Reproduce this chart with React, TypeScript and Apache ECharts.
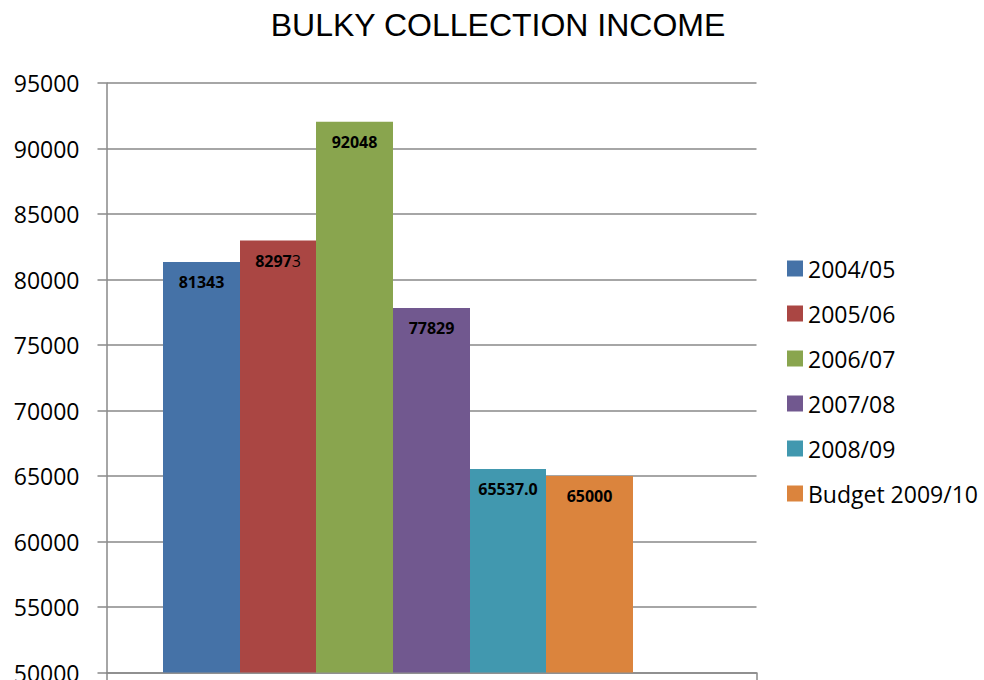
import React, { useEffect, useRef } from "react";
import * as echarts from "echarts";

const title = "BULKY COLLECTION INCOME";
const seriesNames = ["2004/05", "2005/06", "2006/07", "2007/08", "2008/09", "Budget 2009/10"];
const seriesValues = [81343, 82973, 92048, 77829, 65537, 65000];
const labelTexts = ["81343", "{b|8297}{n|3}", "92048", "77829", "65537.0", "65000"];
const colors = ["#4572A7", "#AA4643", "#89A54E", "#71588F", "#4198AF", "#DB843D"];
const barWidths = [77, 76, 77, 77, 76, 87];
const yMin = 50000;
const yMax = 95000;
const yInterval = 5000;

export default function App() {
  const ref = useRef<HTMLDivElement>(null);
  useEffect(() => {
    if (!ref.current) return;
    const chart = echarts.init(ref.current, undefined, { renderer: "svg" });
    const series: any[] = seriesNames.map((name, i) => ({
      name,
      type: "bar",
      data: [seriesValues[i]],
      barWidth: barWidths[i],
      barGap: "0%",
      itemStyle: { color: colors[i] },
      label: {
        show: true,
        position: "insideTop",
        distance: 12,
        formatter: () => labelTexts[i],
        color: "#000",
        fontFamily: "Open Sans",
        fontWeight: "bold",
        fontSize: 16,
        rich: {
          b: { color: "#000", fontFamily: "Open Sans", fontWeight: "bold", fontSize: 16 },
          n: { color: "#000", fontFamily: "Open Sans", fontWeight: "normal", fontSize: 16 },
        },
      },
    }));
    series.push({
      name: "spacer",
      type: "bar",
      data: [null],
      barWidth: 67,
      barGap: "0%",
      silent: true,
      itemStyle: { color: "transparent" },
    });
    chart.setOption({
      animation: false,
      backgroundColor: "#fff",
      title: {
        text: title,
        left: 493,
        textAlign: "center",
        top: 4,
        textStyle: {
          fontFamily: "Liberation Sans",
          fontSize: 32,
          fontWeight: "normal",
          color: "#000",
        },
      },
      legend: {
        data: seriesNames,
        orient: "vertical",
        left: 782,
        top: 252,
        itemWidth: 16,
        itemHeight: 16,
        itemGap: 22,
        icon: "rect",
        textStyle: {
          fontFamily: "Open Sans",
          fontSize: 23,
          color: "#000",
        },
      },
      grid: {
        left: 106.5,
        right: 227.5,
        top: 83,
        bottom: 7.5,
        containLabel: false,
        outerBoundsMode: "none",
      },
      xAxis: {
        type: "category",
        data: [""],
        boundaryGap: true,
        axisLine: { show: true, lineStyle: { color: "#898989", width: 1.5 } },
        axisTick: { show: true, length: 8, lineStyle: { color: "#898989", width: 1.5 } },
        axisLabel: { show: false },
      },
      yAxis: {
        type: "value",
        min: yMin,
        max: yMax,
        interval: yInterval,
        axisLine: { show: true, lineStyle: { color: "#898989", width: 1.5 } },
        axisTick: { show: true, length: 9, lineStyle: { color: "#898989", width: 1.5 } },
        axisLabel: {
          margin: 27,
          fontFamily: "Open Sans",
          fontSize: 23,
          color: "#000",
          formatter: (v: number) => String(v),
        },
        splitLine: { show: true, lineStyle: { color: "#898989", width: 1.5 } },
      },
      series,
    });
    return () => chart.dispose();
  }, []);
  return (
    <div
      ref={ref}
      style={{ position: "fixed", left: 0, top: 0, width: 984, height: 680, background: "#fff" }}
    />
  );
}
